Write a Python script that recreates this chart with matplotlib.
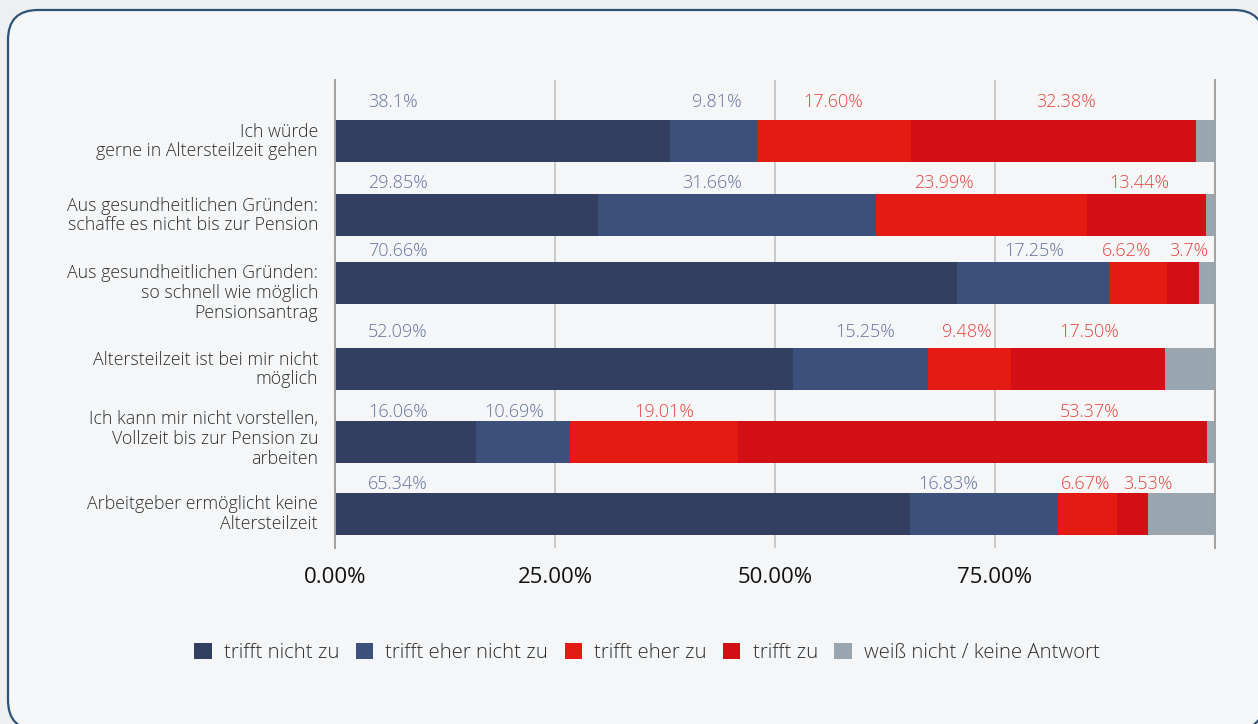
import matplotlib
matplotlib.use("Agg")
import matplotlib.pyplot as plt
from matplotlib.patches import FancyBboxPatch, Patch

plt.rcParams["font.family"] = ["Open Sans", "DejaVu Sans"]

# ---- data -------------------------------------------------------------
categories = [
    "Ich würde\ngerne in Altersteilzeit gehen",
    "Aus gesundheitlichen Gründen:\nschaffe es nicht bis zur Pension",
    "Aus gesundheitlichen Gründen:\nso schnell wie möglich\nPensionsantrag",
    "Altersteilzeit ist bei mir nicht\nmöglich",
    "Ich kann mir nicht vorstellen,\nVollzeit bis zur Pension zu\narbeiten",
    "Arbeitgeber ermöglicht keine\nAltersteilzeit",
]
series_names = ["trifft nicht zu", "trifft eher nicht zu", "trifft eher zu",
                "trifft zu", "weiß nicht / keine Antwort"]

trifft_nicht_zu = ["38.1%", "29.85%", "70.66%", "52.09%", "16.06%", "65.34%"]
trifft_eher_nicht_zu = ["9.81%", "31.66%", "17.25%", "15.25%", "10.69%", "16.83%"]
trifft_eher_zu = ["17.60%", "23.99%", "6.62%", "9.48%", "19.01%", "6.67%"]
trifft_zu = ["32.38%", "13.44%", "3.7%", "17.50%", "53.37%", "3.53%"]
weiss_nicht = [2.11, 1.06, 1.77, 5.68, 0.87, 7.63]

tick_values = [0, 25, 50, 75]
tick_labels = ["0.00%", "25.00%", "50.00%", "75.00%"]

# ---- layout (pixel rows, label anchors in % of axis) -------------------
W, H = 1258, 724
ax_left, ax_right, ax_top, ax_bottom = 335, 1215, 80, 548
bar_centers = [141, 215, 283, 369, 442, 514]
bar_height = 42
cat_label_y = [141.5, 215.5, 293, 369.5, 439, 514]
value_baseline = [107, 188, 256, 337, 417, 489]
label_x = [
    [3.75] * 6,                               # left-aligned first labels
    [43.4, 42.8, 79.5, 60.2, 20.3, 69.7],
    [56.6, 69.2, 89.9, 71.8, 37.4, 85.3],
    [83.1, 91.4, 97.0, 85.7, 85.7, 92.4],
]

colors = ["#333f60", "#3d4f7b", "#e31b13", "#d10f15", "#9aa6af"]
blue_txt = "#67739a"
red_txt = "#e4463f"


def pct(labels):
    return [float(s.rstrip("%")) for s in labels]


labelled = [trifft_nicht_zu, trifft_eher_nicht_zu, trifft_eher_zu, trifft_zu]
values = [pct(s) for s in labelled] + [weiss_nicht]

# ---- figure & card background -----------------------------------------
fig = plt.figure(figsize=(W / 100, H / 100), dpi=100)
fig.patch.set_facecolor("#eeeff0")

bg = fig.add_axes([0, 0, 1, 1], zorder=0)
bg.set_xlim(0, W)
bg.set_ylim(H, 0)
bg.axis("off")
card = FancyBboxPatch((8, 10), 1256, 720, boxstyle="round,pad=0,rounding_size=30",
                      facecolor="#f4f6f8", edgecolor="#2f5277", linewidth=1.6)
bg.add_patch(card)

ax = fig.add_axes([ax_left / W, 1 - ax_bottom / H,
                   (ax_right - ax_left) / W, (ax_bottom - ax_top) / H], zorder=1)
ax.set_facecolor("none")
ax.set_xlim(0, 100)
ax.set_ylim(ax_bottom, ax_top)

# stacked bars
left = [0.0] * len(categories)
for vals, col in zip(values, colors):
    ax.barh(bar_centers, vals, left=left, height=bar_height, color=col,
            linewidth=0, zorder=2)
    left = [l + v for l, v in zip(left, vals)]

# value labels
for si, labels in enumerate(labelled):
    tcol = blue_txt if si < 2 else red_txt
    for ri, txt in enumerate(labels):
        ha = "left" if si == 0 else "center"
        ax.text(label_x[si][ri], value_baseline[ri], txt, ha=ha, va="baseline",
                fontsize=13, color=tcol, fontweight="light", zorder=3)

# category labels
for cat, y in zip(categories, cat_label_y):
    ax.text(-1.93, y, cat, ha="right", va="center", fontsize=12.8,
            color="#2e2e2e", fontweight="light", linespacing=1.13,
            multialignment="right", clip_on=False)

# grid and axes
ax.set_yticks([])
ax.set_xticks(tick_values)
ax.set_xticklabels(tick_labels, fontsize=16, color="#111111")
ax.tick_params(axis="x", length=0, pad=14)
for x in (25, 50, 75):
    ax.axvline(x, color="#c9c9c9", linewidth=1.4, zorder=1)
for side in ("top", "bottom"):
    ax.spines[side].set_visible(False)
for side in ("left", "right"):
    ax.spines[side].set_color("#a0a0a0")
    ax.spines[side].set_linewidth(1.4)

# legend
handles = [Patch(facecolor=c, edgecolor="none") for c in colors]
leg = fig.legend(handles, series_names, loc="center", ncol=5,
                 bbox_to_anchor=(647 / W, 1 - 653 / H), frameon=False,
                 prop={"size": 14.7, "weight": "light"},
                 handlelength=0.85, handleheight=0.85, handletextpad=0.6,
                 columnspacing=0.8, labelcolor="#2e2e2e")

fig.savefig("out.png", dpi=100, facecolor=fig.get_facecolor())
